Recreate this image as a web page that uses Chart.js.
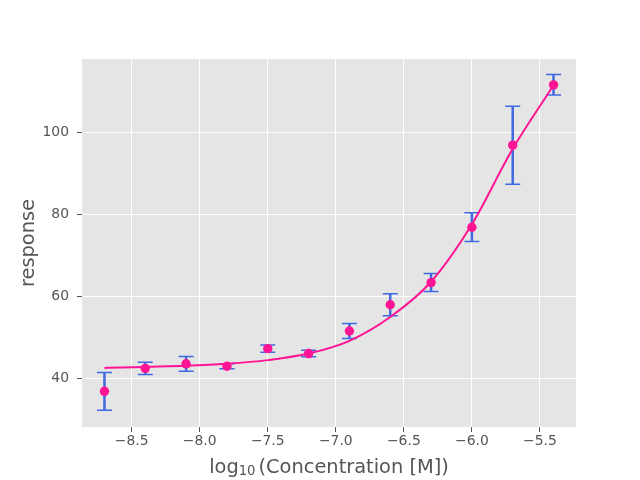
<!DOCTYPE html>
<html>
<head>
<meta charset="utf-8">
<script src="https://cdn.jsdelivr.net/npm/chart.js@4/dist/chart.umd.min.js"></script>
<style>
  body { margin: 0; background: #fff; }
  #wrap { width: 640px; height: 480px; }
</style>
</head>
<body>
<div id="wrap"><canvas id="doseChart" width="640" height="480"></canvas></div>
<script>
// measured points (log10 concentration vs response) with std errors
const logConc = [-8.7, -8.4, -8.1, -7.8, -7.5, -7.2, -6.9, -6.6, -6.3, -6.0, -5.7, -5.4];
const response = [36.9, 42.5, 43.6, 43.0, 47.3, 46.1, 51.6, 58.0, 63.4, 76.9, 96.9, 111.6];
const responseErr = [4.6, 1.5, 1.8, 0.6, 0.9, 0.8, 1.8, 2.7, 2.2, 3.5, 9.5, 2.5];

// fitted curve
const fitX = [-8.7, -8.4, -8.1, -7.8, -7.5, -7.2, -6.9, -6.6, -6.3, -6.0, -5.7, -5.4];
const fitY = [42.6, 42.85, 43.1, 43.6, 44.5, 46.1, 49.2, 55.0, 63.6, 77.6, 96.0, 111.5];

const xTicks = [-8.5, -8.0, -7.5, -7.0, -6.5, -6.0, -5.5];
const yTicks = [40, 60, 80, 100];

const FONT = 'DejaVu Sans';
const TXT = '#555555';

const points = logConc.map((x, i) => ({ x: x, y: response[i], err: responseErr[i] }));
const curve = fitX.map((x, i) => ({ x: x, y: fitY[i] }));

// grey panel behind the plot
const panelBg = {
    id: 'panelBg',
    beforeDraw(chart) {
        const a = chart.chartArea;
        const ctx = chart.ctx;
        ctx.save();
        ctx.fillStyle = '#E5E5E5';
        ctx.fillRect(a.left, a.top, a.right - a.left, a.bottom - a.top);
        ctx.restore();
    }
};

// error bars with caps, drawn under the line and markers
const errorBars = {
    id: 'errorBars',
    beforeDatasetsDraw(chart) {
        const xs = chart.scales.x, ys = chart.scales.y;
        const ctx = chart.ctx;
        ctx.save();
        ctx.strokeStyle = '#4169E1';
        points.forEach(p => {
            const px = xs.getPixelForValue(p.x);
            const top = ys.getPixelForValue(p.y + p.err);
            const bot = ys.getPixelForValue(p.y - p.err);
            ctx.lineWidth = 2.5;
            ctx.beginPath();
            ctx.moveTo(px, top);
            ctx.lineTo(px, bot);
            ctx.stroke();
            ctx.lineWidth = 1.5;
            ctx.beginPath();
            ctx.moveTo(px - 7.5, top);
            ctx.lineTo(px + 7.5, top);
            ctx.moveTo(px - 7.5, bot);
            ctx.lineTo(px + 7.5, bot);
            ctx.stroke();
        });
        ctx.restore();
    }
};

// axis titles (x title needs a subscript)
const axisTitles = {
    id: 'axisTitles',
    afterDraw(chart) {
        const a = chart.chartArea;
        const ctx = chart.ctx;
        ctx.save();
        ctx.fillStyle = TXT;
        ctx.textBaseline = 'alphabetic';

        const big = '19.4px "' + FONT + '"';
        const small = '13.2px "' + FONT + '"';
        ctx.font = big;
        const w1 = ctx.measureText('log').width;
        const w3 = ctx.measureText('(Concentration [M])').width;
        ctx.font = small;
        const w2 = ctx.measureText('10').width;
        const gap = 3;
        let x = (a.left + a.right) / 2 - (w1 + w2 + gap + w3) / 2;
        const base = 473;
        ctx.textAlign = 'left';
        ctx.font = big;
        ctx.fillText('log', x, base);
        x += w1;
        ctx.font = small;
        ctx.fillText('10', x, base + 2);
        x += w2 + gap;
        ctx.font = big;
        ctx.fillText('(Concentration [M])', x, base);

        ctx.translate(33.5, (a.top + a.bottom) / 2);
        ctx.rotate(-Math.PI / 2);
        ctx.textAlign = 'center';
        ctx.font = big;
        ctx.fillText('response', 0, 0);
        ctx.restore();
    }
};

const ctx = document.getElementById('doseChart').getContext('2d');
const doseChart = new Chart(ctx, {
    type: 'scatter',
    data: {
        datasets: [{
            type: 'line',
            label: 'fit',
            data: curve,
            borderColor: '#FF1493',
            borderWidth: 2,
            pointRadius: 0,
            fill: false,
            cubicInterpolationMode: 'monotone'
        }, {
            label: 'response',
            data: points,
            backgroundColor: '#FF1493',
            borderWidth: 0,
            pointRadius: 4.7
        }]
    },
    options: {
        responsive: false,
        animation: false,
        layout: { padding: { top: 59, right: 64, left: 0, bottom: 0 } },
        plugins: {
            legend: { display: false },
            tooltip: { enabled: false }
        },
        scales: {
            x: {
                type: 'linear',
                min: -8.865,
                max: -5.235,
                afterBuildTicks: (scale) => { scale.ticks = xTicks.map(v => ({ value: v })); },
                afterFit: (scale) => { scale.height = 53; },
                border: { display: false },
                grid: { color: '#FFFFFF', lineWidth: 1, tickColor: TXT, tickLength: 5 },
                ticks: {
                    color: TXT,
                    font: { family: FONT, size: 13.9 },
                    padding: 1,
                    maxRotation: 0,
                    callback: (v) => v.toFixed(1).replace('-', '\u2212')
                }
            },
            y: {
                type: 'linear',
                min: 28.2,
                max: 117.9,
                afterBuildTicks: (scale) => { scale.ticks = yTicks.map(v => ({ value: v })); },
                afterFit: (scale) => { scale.width = 82; },
                border: { display: false },
                grid: { color: '#FFFFFF', lineWidth: 1, tickColor: TXT, tickLength: 5 },
                ticks: {
                    color: TXT,
                    font: { family: FONT, size: 13.9 },
                    padding: 8,
                    callback: (v) => String(v)
                }
            }
        }
    },
    plugins: [panelBg, errorBars, axisTitles]
});
</script>
</body>
</html>
